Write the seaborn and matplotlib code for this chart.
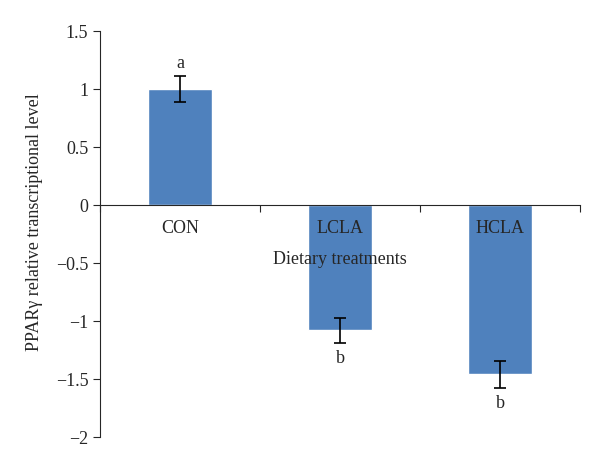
import numpy as np
import pandas as pd
import matplotlib
matplotlib.use("Agg")
import matplotlib.pyplot as plt
import seaborn as sns

# datos
tratamientos = ["CON", "LCLA", "HCLA"]
valores = [1.0, -1.08, -1.46]
errores = [0.11, 0.11, 0.12]
letras = ["a", "b", "b"]

AZUL = "#4F81BD"

sns.set_style("white")
plt.rcParams["font.family"] = ["Liberation Serif", "DejaVu Serif"]

df = pd.DataFrame({"Tratamiento": tratamientos, "Valor": valores})

fig = plt.figure(figsize=(6, 4.7), dpi=100)
ax = fig.add_axes([0.167, 0.070, 0.8, 0.864])

sns.barplot(data=df, x="Tratamiento", y="Valor", color=AZUL, width=0.4,
            saturation=1, errorbar=None, ax=ax, zorder=2)
x = np.arange(len(tratamientos))
ax.errorbar(x, valores, yerr=errores, fmt="none", ecolor="black",
            elinewidth=1.2, capsize=4, capthick=1.2, zorder=3)

for xi, v, e, l in zip(x, valores, errores, letras):
    if v >= 0:
        ax.text(xi, v + e + 0.04, l, ha="center", va="bottom", fontsize=13)
    else:
        ax.text(xi, v - e - 0.06, l, ha="center", va="top", fontsize=13)

ax.set_axisbelow(False)  # textos de los ejes por encima de las barras
ax.set_xlim(-0.5, 2.5)
ax.set_ylim(-2, 1.5)
ax.set_yticks(np.arange(-2, 1.51, 0.5))
ax.set_yticklabels(["\u22122", "\u22121.5", "\u22121", "\u22120.5", "0", "0.5", "1", "1.5"])

# eje x en el cero, marcas entre categorías
ax.spines["bottom"].set_position(("data", 0))
ax.spines["top"].set_visible(False)
ax.spines["right"].set_visible(False)
ax.spines["left"].set_linewidth(0.8)
ax.spines["bottom"].set_linewidth(0.8)
ax.set_xticks([-0.5, 0.5, 1.5, 2.5])
ax.set_xticklabels([])
ax.set_xticks(x, minor=True)
ax.set_xticklabels(tratamientos, minor=True, fontsize=13)
ax.tick_params(axis="x", which="major", direction="out", length=5, width=0.8, bottom=True)
ax.tick_params(axis="x", which="minor", length=0, pad=11, bottom=True)
ax.tick_params(axis="y", direction="out", length=5, width=0.8, left=True, labelsize=13)

ax.set_xlabel("Dietary treatments", fontsize=13)
ax.xaxis.set_label_coords(0.5, 0.458)
ax.set_ylabel("PPAR\u03b3 relative transcriptional level", fontsize=13)
ax.yaxis.set_label_coords(-0.12, 0.53)

plt.savefig("out.png", dpi=100)
